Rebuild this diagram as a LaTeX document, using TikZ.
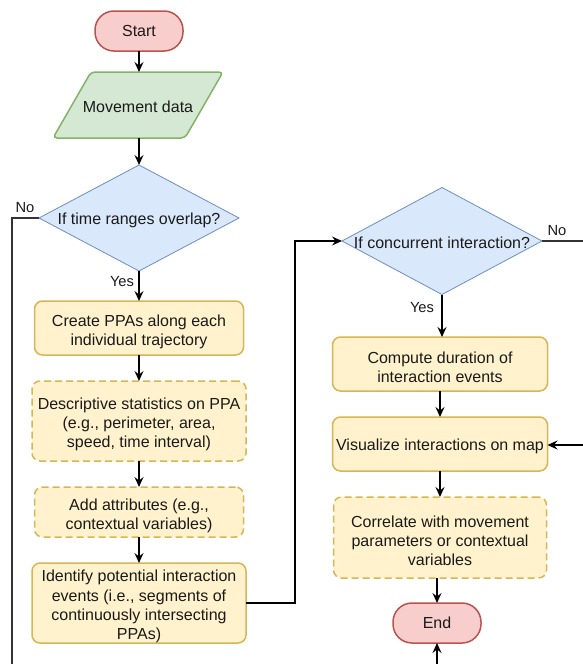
\documentclass[tikz,border=0pt]{standalone}
\usepackage{fontspec}
\setmainfont{Liberation Sans}
\usetikzlibrary{shapes.geometric,arrows.meta}
\definecolor{termfill}{HTML}{F8CECC}
\definecolor{termdraw}{HTML}{B85450}
\definecolor{iofill}{HTML}{D5E8D4}
\definecolor{iodraw}{HTML}{82B366}
\definecolor{decfill}{HTML}{DAE8FC}
\definecolor{decdraw}{HTML}{6C8EBF}
\definecolor{procfill}{HTML}{FFF2CC}
\definecolor{procdraw}{HTML}{D6B656}
\definecolor{txt}{HTML}{1A1A1A}
\begin{document}
\begin{tikzpicture}[x=1pt,y=-1pt,
  font=\fontsize{16}{19.2}\selectfont, text=txt,
  term/.style={draw=termdraw, fill=termfill, line width=1.5pt, rounded corners=19pt,
    minimum width=88pt, minimum height=40pt, inner sep=0pt, outer sep=0pt},
  iobox/.style={draw=iodraw, fill=iofill, line width=1.5pt, rounded corners=4pt},
  dec/.style={diamond, draw=decdraw, fill=decfill, line width=0.8pt,
    inner sep=0pt, outer sep=0pt},
  proc/.style={draw=procdraw, fill=procfill, line width=1.5pt, rounded corners=8pt,
    inner sep=0pt, outer sep=0pt},
  optproc/.style={proc, dash pattern=on 7pt off 4pt},
  conn/.style={line width=1.2pt, draw=black, -{Stealth[length=10pt,width=9pt,inset=3.5pt]}},
  line/.style={line width=1.2pt, draw=black!80},
  lbl/.style={font=\fontsize{14.7}{17}\selectfont, inner sep=0pt},
  inlbl/.style={inner sep=0pt, align=center, yshift=-2pt},
  multilbl/.style={inner sep=0pt, align=center, yshift=-3.5pt}
]
\useasboundingbox (0,0) rectangle (583,664);

% nodes
\node[term] (start) at (139,31) {Start};
\coordinate (p1) at (53,138);
\coordinate (p2) at (91,72);
\coordinate (p3) at (223,72);
\coordinate (p4) at (185,138);
\draw[iobox] (p1) -- (p2) -- (p3) -- (p4) -- cycle;
\node[minimum width=170pt, minimum height=66pt, inner sep=0pt, outer sep=0pt] (mov) at (138,105) {};
\node[inlbl] (movtext) at (mov) {Movement data};

\node[dec, minimum width=200pt, minimum height=106pt] (d1) at (139,218) {};
\node[inlbl] (d1text) at (d1) {If time ranges overlap?};

\node[proc, minimum width=209pt, minimum height=54pt] (b1) at (139,328) {};
\node[multilbl] (b1text) at (b1) {Create PPAs along each\\individual trajectory};
\node[optproc, minimum width=214pt, minimum height=80pt] (b2) at (139,421) {};
\node[multilbl] (b2text) at (b2) {Descriptive statistics on PPA\\(e.g., perimeter, area,\\speed, time interval)};
\node[optproc, minimum width=209pt, minimum height=50pt] (b3) at (139,512) {};
\node[multilbl] (b3text) at (b3) {Add attributes (e.g.,\\contextual variables)};
\node[proc, minimum width=214pt, minimum height=80pt] (b4) at (139,603) {};
\node[multilbl] (b4text) at (b4) {Identify potential interaction\\events (i.e., segments of\\continuously intersecting\\PPAs)};

\node[dec, minimum width=200pt, minimum height=107pt] (d2) at (442,241) {};
\node[inlbl] (d2text) at (d2) {If concurrent interaction?};

\node[proc, minimum width=215pt, minimum height=54pt] (b5) at (440,364) {};
\node[multilbl] (b5text) at (b5) {Compute duration of\\interaction events};
\node[proc, minimum width=215pt, minimum height=54pt] (b6) at (440,444) {};
\node[inlbl] (b6text) at (b6) {Visualize interactions on map};
\node[optproc, minimum width=213pt, minimum height=81pt] (b7) at (440,537.5) {};
\node[multilbl] (b7text) at (b7) {Correlate with movement\\parameters or contextual\\variables};
\node[term] (end) at (437,623) {End};

% labels
\node[lbl] (no1) at (25,208) {No};
\node[lbl] (yes1) at (122,282) {Yes};
\node[lbl] (no2) at (557,231) {No};
\node[lbl] (yes2) at (422,308) {Yes};

% helper coordinates
\coordinate (l1) at (12,218);
\coordinate (l2) at (12,670);
\coordinate (j1) at (295,241);
\coordinate (r1) at (590,241);
\coordinate (r2) at (590,445);
\coordinate (e1) at (437,670);

% connectors
\draw[conn] (start) -- (start.south |- mov.north);
\draw[conn] (mov.south -| d1.north) -- (d1.north);
\draw[conn] (d1.south) -- (b1.north);
\draw[conn] (b1) -- (b2);
\draw[conn] (b2) -- (b3);
\draw[conn] (b3) -- (b4);
\draw[conn] (b4.east) -| (j1) -- (d2.west);
\draw[line] (d1.west) -- (l1) -- (l2);
\draw[line] (d2.east) -- (r1);
\draw[conn] (d2.south) -- (d2.south |- b5.north);
\draw[conn] (b5) -- (b6);
\draw[conn] (b6) -- (b7);
\draw[conn] (end.north |- b7.south) -- (end.north);
\draw[conn] (r2) -- (b6.east |- r2);
\draw[conn] (e1) -- (end.south);
\end{tikzpicture}
\end{document}
